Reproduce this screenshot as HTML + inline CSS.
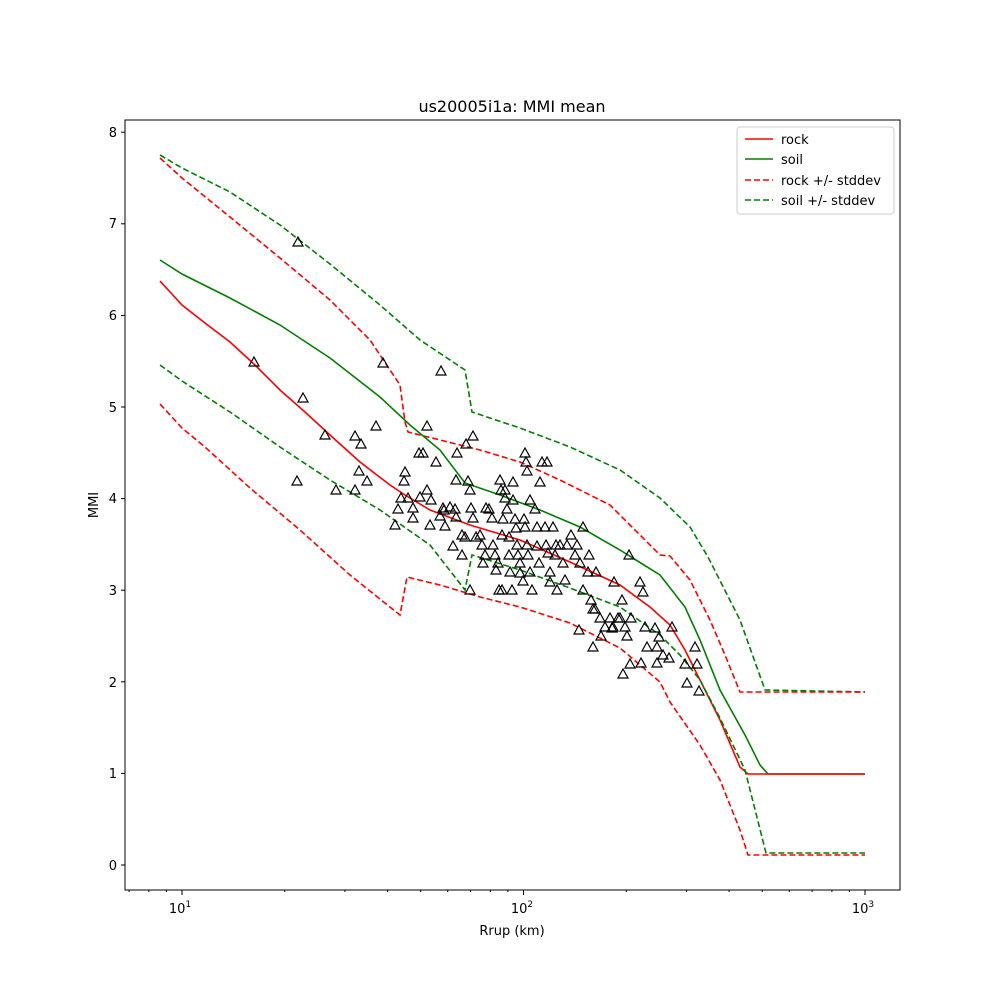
<!DOCTYPE html>
<html><head><meta charset="utf-8"><style>body{margin:0;background:#fff}svg{display:block}text{font-family:"DejaVu Sans","Liberation Sans",sans-serif;fill:#000}</style></head><body>
<svg width="1000" height="1000" viewBox="0 0 1000 1000" xmlns="http://www.w3.org/2000/svg">
<rect width="1000" height="1000" fill="#fff"/>
<text x="512" y="112" font-size="16" text-anchor="middle">us20005i1a: MMI mean</text>
<g fill="none" stroke-width="1.6">
<polyline stroke="#008000" stroke-dasharray="6,3" points="160,155 182,168 230,192 280,225 330,264 380,305 420,340 465,370 472,412 520,428 570,447 620,470 660,498 690,527 708,557 740,620 765,690 865,692"/>
<polyline stroke="#ff0000" stroke-dasharray="6,3" points="160,158 182,178 230,217 280,258 330,300 370,340 400,385 405,422 408,432 440,440 480,450 520,462 560,480 610,505 660,555 670,556 690,580 710,620 725,655 740,692 865,692"/>
<polyline stroke="#008000" points="160,260 182,274 230,298 280,325 330,358 380,397 410,425 440,450 465,483 500,495 540,510 580,527 620,550 660,575 685,607 700,640 720,690 745,735 760,765 768,774 865,774"/>
<polyline stroke="#ff0000" points="160,281 182,305 205,323 230,342 255,365 280,390 305,412 330,435 360,462 390,485 405,495 430,510 470,525 520,540 570,562 620,585 650,607 670,625 685,650 700,680 720,720 740,767 748,774 865,774"/>
<polyline stroke="#008000" stroke-dasharray="6,3" points="160,365 182,381 230,412 280,447 330,480 380,510 430,545 465,590 472,555 520,570 570,588 620,607 660,635 680,655 700,680 720,718 745,770 766,853 865,853"/>
<polyline stroke="#ff0000" stroke-dasharray="6,3" points="160,404 182,428 205,447 250,488 300,530 350,575 400,615 407,577 440,585 480,597 520,607 570,623 620,648 660,682 670,702 700,745 720,780 740,830 748,855 865,855"/>
</g>
<g id="pts" fill="none" stroke="#000" stroke-width="1.2"></g>
<rect x="125" y="120" width="775" height="770" fill="none" stroke="#000" stroke-width="1"/>
<g id="ticks" stroke="#000" stroke-width="1"></g>
<g font-size="13" text-anchor="end">
<text x="117" y="870">0</text><text x="117" y="778">1</text><text x="117" y="687">2</text><text x="117" y="595">3</text><text x="117" y="503">4</text><text x="117" y="412">5</text><text x="117" y="320">6</text><text x="117" y="228">7</text><text x="117" y="137">8</text>
</g>
<g font-size="13" text-anchor="middle">
<text x="180" y="913">10<tspan font-size="9" dy="-6">1</tspan></text>
<text x="522" y="913">10<tspan font-size="9" dy="-6">2</tspan></text>
<text x="863" y="913">10<tspan font-size="9" dy="-6">3</tspan></text>
<text x="512" y="935">Rrup (km)</text>
</g>
<text x="0" y="0" font-size="13" text-anchor="middle" transform="translate(98,505) rotate(-90)">MMI</text>
<rect x="737" y="127" width="157" height="87" rx="3" fill="#fff" stroke="#ccc"/>
<g stroke-width="1.6">
<line x1="745" y1="139" x2="773" y2="139" stroke="#ff0000"/>
<line x1="745" y1="159" x2="773" y2="159" stroke="#008000"/>
<line x1="745" y1="180" x2="773" y2="180" stroke="#ff0000" stroke-dasharray="6,3"/>
<line x1="745" y1="200" x2="773" y2="200" stroke="#008000" stroke-dasharray="6,3"/>
</g>
<g font-size="13"><text x="781" y="144">rock</text><text x="781" y="164">soil</text><text x="781" y="185">rock +/- stddev</text><text x="781" y="205">soil +/- stddev</text></g>
<script>
var P=[[298,242],[254,362],[383,363],[441,371],[303,398],[297,481],[325,435],[355,436],[361,444],[336,490],[355,490],[359,471],[367,481],[376,426],[401,498],[398,509],[395,525],[404,481],[405,472],[408,498],[413,508],[420,497],[413,518],[419,453],[423,453],[427,426],[427,490],[431,500],[430,525],[436,462],[440,516],[444,510],[443,508],[445,526],[450,507],[455,509],[456,517],[453,546],[456,480],[457,453],[462,555],[462,535],[466,444],[468,481],[470,490],[473,436],[465,537],[470,590],[471,508],[473,518],[476,537],[480,535],[482,545],[485,555],[483,563],[486,508],[489,509],[492,518],[493,545],[495,555],[496,570],[498,563],[499,590],[502,535],[502,590],[501,490],[500,480],[503,519],[505,490],[507,509],[505,498],[509,537],[509,555],[510,572],[512,590],[513,482],[513,500],[515,519],[516,528],[517,545],[518,555],[520,563],[520,573],[523,581],[525,453],[526,462],[527,471],[524,519],[525,527],[527,545],[528,555],[530,500],[530,572],[532,590],[535,509],[537,527],[537,546],[539,563],[540,482],[542,462],[546,545],[547,462],[545,527],[548,553],[550,572],[550,582],[553,527],[555,555],[556,545],[557,590],[560,545],[563,563],[565,580],[567,545],[571,535],[575,555],[577,545],[579,630],[580,563],[583,527],[583,590],[588,572],[589,555],[591,600],[593,647],[593,609],[595,609],[596,572],[600,618],[601,636],[605,627],[610,618],[612,628],[613,627],[614,582],[618,618],[620,618],[622,600],[623,674],[625,627],[627,636],[629,555],[630,664],[631,618],[640,582],[641,663],[643,592],[645,627],[647,647],[655,628],[657,663],[657,647],[659,637],[663,655],[669,658],[672,627],[685,664],[687,683],[695,647],[697,664],[699,691]];
var ns="http://www.w3.org/2000/svg",g=document.getElementById('pts');
P.forEach(function(p){var e=document.createElementNS(ns,'polygon');e.setAttribute('points',(p[0])+','+(p[1]-5)+' '+(p[0]-5)+','+(p[1]+4)+' '+(p[0]+5)+','+(p[1]+4));g.appendChild(e);});
var t=document.getElementById('ticks');
function L(a,b,c,d){var e=document.createElementNS(ns,'line');e.setAttribute('x1',a);e.setAttribute('y1',b);e.setAttribute('x2',c);e.setAttribute('y2',d);t.appendChild(e);}
for(var i=0;i<=8;i++){var y=865-i*91.6;L(121,y,125,y);}
for(var d=0;d<3;d++)for(var k=1;k<10;k++){var x=182+341.5*(d+Math.log10(k));if(x>=125&&x<=900)L(x,890,x,k==1?895:892);}
L(182+341.5*2,890,182+341.5*2,895);
for(var k=7;k<10;k++){var x=182+341.5*(Math.log10(k)-1);L(x,890,x,892);}
</script>
</svg>
</body></html>
